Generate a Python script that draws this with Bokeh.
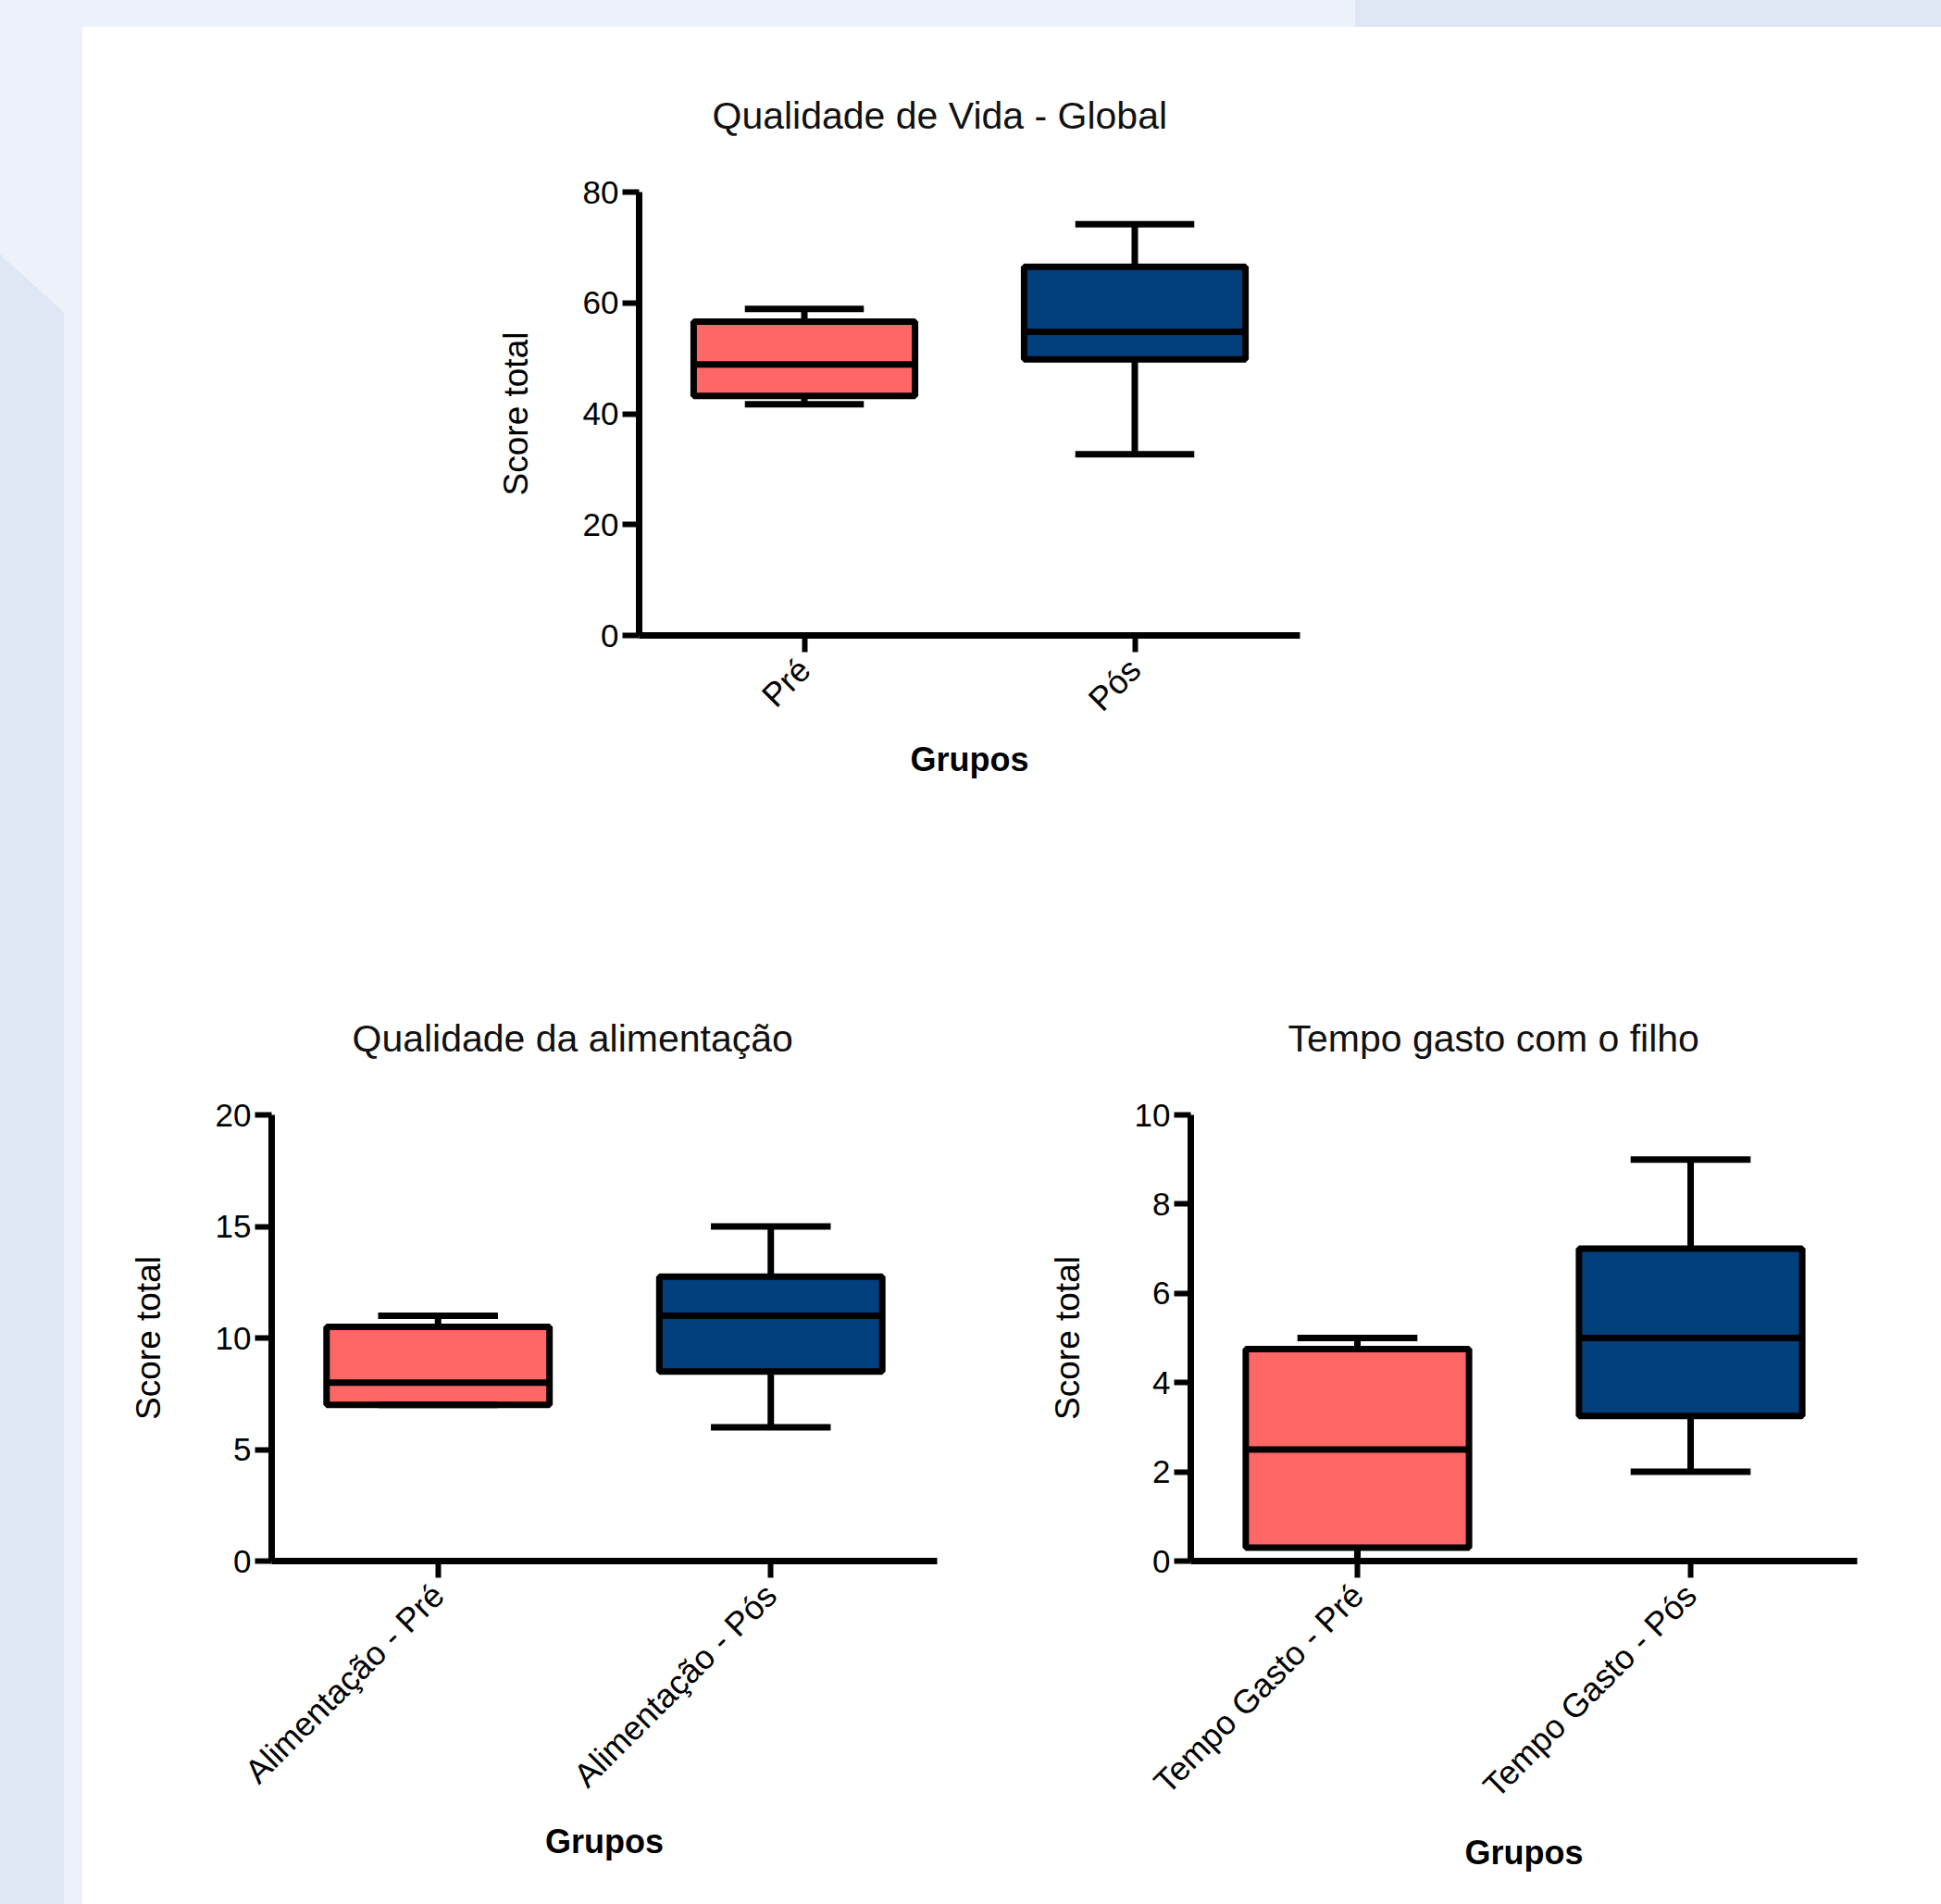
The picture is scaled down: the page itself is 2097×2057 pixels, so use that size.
import math
from bokeh.plotting import figure
from bokeh.models import (ColumnDataSource, FactorRange, Range1d, FixedTicker, Div,
                          GlobalInlineStyleSheet)
from bokeh.layouts import row, column
from bokeh.transform import dodge
from bokeh.embed import file_html
from bokeh.resources import INLINE

# ---------------- data ----------------
global_title = "Qualidade de Vida - Global"
global_groups = ["Pré", "Pós"]
global_min = [41.7, 32.7]
global_q1 = [43.2, 49.8]
global_med = [48.9, 54.8]
global_q3 = [56.6, 66.5]
global_max = [58.9, 74.2]
global_yticks = [0, 20, 40, 60, 80]

alim_title = "Qualidade da alimentação"
alim_groups = ["Alimentação - Pré", "Alimentação - Pós"]
alim_min = [7.0, 6.0]
alim_q1 = [7.0, 8.5]
alim_med = [8.0, 11.0]
alim_q3 = [10.5, 12.75]
alim_max = [11.0, 15.0]
alim_yticks = [0, 5, 10, 15, 20]

tempo_title = "Tempo gasto com o filho"
tempo_groups = ["Tempo Gasto - Pré", "Tempo Gasto - Pós"]
tempo_min = [0.0, 2.0]
tempo_q1 = [0.3, 3.25]
tempo_med = [2.5, 5.0]
tempo_q3 = [4.75, 7.0]
tempo_max = [5.0, 9.0]
tempo_yticks = [0, 2, 4, 6, 8, 10]

y_label = "Score total"
x_label = "Grupos"

# ---------------- styles ----------------
box_colors = ["#FF6666", "#023F7D"]
FONT = "Liberation Sans"
LW = 7
BOX_W = 0.67
CAP_W = 0.36


def box_plot(title, groups, mins, q1s, meds, q3s, maxs, yticks,
             width, height, bl, br, bt, bb, title_offset, xlab_standoff):
    p = figure(x_range=FactorRange(factors=groups, range_padding=0),
               y_range=Range1d(yticks[0], yticks[-1]),
               width=width, height=height, title=title,
               output_backend="svg", toolbar_location=None,
               min_border_left=bl, min_border_right=br,
               min_border_top=bt, min_border_bottom=bb)
    p.background_fill_color = "white"
    p.border_fill_color = "white"
    p.outline_line_color = None
    p.xgrid.visible = False
    p.ygrid.visible = False

    p.title.align = "left"
    p.title.offset = title_offset
    p.title.standoff = 120
    p.title.text_font = FONT
    p.title.text_font_size = "41px"
    p.title.text_font_style = "normal"
    p.title.text_color = "#111111"

    for ax in (p.xaxis[0], p.yaxis[0]):
        ax.axis_line_width = LW
        ax.axis_line_color = "black"
        ax.major_tick_line_width = 6
        ax.major_tick_line_color = "black"
        ax.major_tick_out = 18
        ax.major_tick_in = 0
        ax.minor_tick_line_color = None
        ax.major_label_text_font = FONT
        ax.major_label_text_font_size = "35px"
        ax.major_label_text_color = "black"
        ax.major_label_standoff = 4
        ax.axis_label_text_color = "black"
        ax.axis_label_text_font = FONT

    p.yaxis.ticker = FixedTicker(ticks=yticks)
    p.yaxis.axis_label = y_label
    p.yaxis.axis_label_text_font_size = "37px"
    p.yaxis.axis_label_text_font_style = "normal"
    p.yaxis.axis_label_standoff = 49

    p.xaxis.axis_label = x_label
    p.xaxis.axis_label_text_font_size = "36px"
    p.xaxis.axis_label_text_font_style = "bold"
    p.xaxis.axis_label_standoff = xlab_standoff
    p.xaxis.major_label_orientation = math.pi / 4
    p.xaxis.major_label_text_font_size = "36px"
    p.xaxis.major_label_standoff = 13

    src = ColumnDataSource(dict(cat=groups, lo=mins, q1=q1s, med=meds,
                                q3=q3s, hi=maxs, color=box_colors[:len(groups)]))
    # whiskers
    p.segment(x0="cat", x1="cat", y0="q3", y1="hi", source=src,
              line_color="black", line_width=LW)
    p.segment(x0="cat", x1="cat", y0="q1", y1="lo", source=src,
              line_color="black", line_width=LW)
    # boxes
    p.vbar(x="cat", bottom="q1", top="q3", width=BOX_W, source=src,
           fill_color="color", line_color="black", line_width=LW)
    # medians
    p.segment(x0=dodge("cat", -BOX_W / 2, range=p.x_range),
              x1=dodge("cat", BOX_W / 2, range=p.x_range),
              y0="med", y1="med", source=src, line_color="black", line_width=LW)
    # caps
    for col in ("hi", "lo"):
        p.segment(x0=dodge("cat", -CAP_W / 2, range=p.x_range),
                  x1=dodge("cat", CAP_W / 2, range=p.x_range),
                  y0=col, y1=col, source=src, line_color="black", line_width=LW)
    return p


p_top = box_plot(global_title, global_groups, global_min, global_q1, global_med,
                 global_q3, global_max, global_yticks,
                 width=2008, height=971, bl=601, br=693, bt=178, bb=314,
                 title_offset=79, xlab_standoff=7)
p_bl = box_plot(alim_title, alim_groups, alim_min, alim_q1, alim_med,
                alim_q3, alim_max, alim_yticks,
                width=1011, height=1057, bl=204, br=88, bt=204, bb=371,
                title_offset=87, xlab_standoff=13)
p_br = box_plot(tempo_title, tempo_groups, tempo_min, tempo_q1, tempo_med,
                tempo_q3, tempo_max, tempo_yticks,
                width=997, height=1057, bl=186, br=91, bt=204, bb=371,
                title_offset=105, xlab_standoff=14)

LIGHT = "#EDF1FA"
DARK = "#E0E7F4"
top_strip = Div(text="", width=2097, height=29, margin=0,
                styles={"background": f"linear-gradient(to right, {LIGHT} 1464px, {DARK} 1464px)"})
left_strip = Div(text="", width=89, height=2028, margin=0,
                 styles={"background":
                         f"linear-gradient({LIGHT},{LIGHT}) 69px 0/20px 100% no-repeat, "
                         f"linear-gradient({LIGHT},{LIGHT}) 0 0/69px 246px no-repeat, "
                         f"linear-gradient(to top right, {DARK} 50%, {LIGHT} 50%) 0 246px/69px 62px no-repeat, "
                         f"{DARK}"})

inner = column(p_top, row(p_bl, p_br, spacing=0), spacing=0)
page = column(top_strip, row(left_strip, inner, spacing=0), spacing=0)
page.stylesheets = [GlobalInlineStyleSheet(
    css="html, body { margin: 0 !important; padding: 0 !important; overflow: hidden; background: white; }")]

open("out.html", "w").write(file_html(page, INLINE))
